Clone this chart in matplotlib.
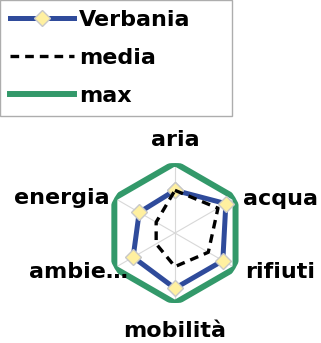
import numpy as np
import matplotlib.pyplot as plt

categorie = ["aria", "acqua", "rifiuti", "mobilità", "ambie…", "energia"]
verbania = [61, 84, 79, 79, 69, 59]
media = [61, 71, 55, 48, 31, 31]
massimo = [100, 100, 100, 100, 100, 100]

BLU = "#2F4B9B"
VERDE = "#33996A"

n = len(categorie)
theta = np.arange(n) * 2 * np.pi / n
chiudi = lambda v: list(v) + [v[0]]
theta_c = chiudi(list(theta))

fig = plt.figure(figsize=(3.21, 3.43), dpi=100)
ax = fig.add_axes([0.327, 0.1166, 0.436, 0.408], projection="polar")
ax.set_theta_zero_location("N")
ax.set_theta_direction(-1)
ax.set_ylim(0, 100)

l_max, = ax.plot(theta_c, chiudi(massimo), color=VERDE, lw=4.3, zorder=2,
                 solid_joinstyle="miter", label="max")
l_ver, = ax.plot(theta_c, chiudi(verbania), color=BLU, lw=3.6, zorder=3,
                 marker="D", markersize=8.5, markerfacecolor="#FFF0A0",
                 markeredgecolor="#C8C8C8", markeredgewidth=1,
                 solid_joinstyle="miter", label="Verbania")
l_med, = ax.plot(theta_c, chiudi(media), color="black", lw=2.4, zorder=4,
                 linestyle=(0, (2.6, 1.8)), label="media")

ax.set_xticks(theta)
ax.set_xticklabels([])
ax.set_yticks([])
ax.xaxis.grid(True, color="#D8D8D8", lw=0.8)
ax.spines["polar"].set_visible(False)
ax.patch.set_visible(False)

font = dict(fontsize=16, fontweight="bold", color="black")
pos = [(0.5, 1.164, "center"), (0.986, 0.74, "left"), (1.0, 0.22, "left"),
       (0.5, -0.2, "center"), (0.164, 0.22, "right"), (0.036, 0.75, "right")]
for (x, y, ha), testo in zip(pos, categorie):
    ax.text(x, y, testo, transform=ax.transAxes, ha=ha, va="center", **font)

leg = fig.legend(handles=[l_ver, l_med, l_max], loc="upper left",
                 bbox_to_anchor=(0, 1 - 113 / 343, 232 / 321, 113 / 343),
                 mode="expand", borderaxespad=0, fancybox=False,
                 edgecolor="#999999", handlelength=2.9, handletextpad=0.2,
                 labelspacing=0.8, borderpad=0.45,
                 prop=dict(size=16, weight="bold"))
leg.get_frame().set_linewidth(1)

fig.savefig("out.png", dpi=100)
